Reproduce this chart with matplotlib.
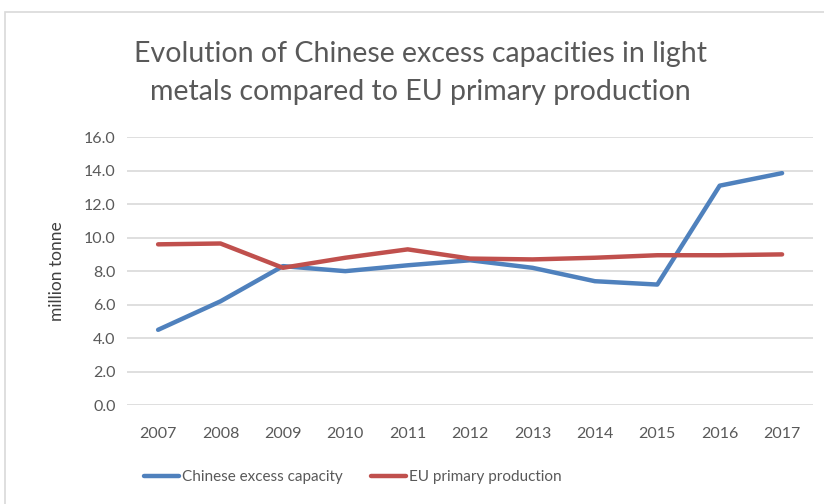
import matplotlib
matplotlib.use("Agg")
import matplotlib.pyplot as plt
from matplotlib.patches import Rectangle

years = ["2007", "2008", "2009", "2010", "2011", "2012",
         "2013", "2014", "2015", "2016", "2017"]
chinese_excess = [4.5, 6.2, 8.3, 8.0, 8.35, 8.65, 8.2, 7.4, 7.2, 13.1, 13.85]
eu_primary = [9.6, 9.65, 8.2, 8.8, 9.3, 8.75, 8.7, 8.8, 8.95, 8.95, 9.0]
y_ticks = [0, 2, 4, 6, 8, 10, 12, 14, 16]

plt.rcParams["font.family"] = ["Lato", "DejaVu Sans"]
text_grey = "#595959"

fig = plt.figure(figsize=(8.24, 5.04), dpi=100)
ax = fig.add_axes([0.154, 0.196, 0.833, 0.532])

x = range(len(years))
ax.plot(x, chinese_excess, color="#4F81BD", lw=3.2, solid_capstyle="round",
        label="Chinese excess capacity")
ax.plot(x, eu_primary, color="#C0504D", lw=3.2, solid_capstyle="round",
        label="EU primary production")

ax.set_xlim(-0.5, len(years) - 0.5)
ax.set_ylim(0, 16)
ax.set_xticks(list(x))
ax.set_xticklabels(years)
ax.set_yticks(y_ticks)
ax.set_yticklabels([f"{v:.1f}" for v in y_ticks])
ax.tick_params(length=0, labelsize=11.5, colors=text_grey, pad=8)
ax.tick_params(axis="x", pad=16)
ax.grid(axis="y", color="#D9D9D9", lw=1.2)
ax.set_axisbelow(True)
for s in ax.spines.values():
    s.set_visible(False)

ax.set_ylabel("million tonne", fontsize=12.5, color="#404040", labelpad=14)

fig.text(0.51, 0.855, "Evolution of Chinese excess capacities in light\n"
         "metals compared to EU primary production",
         ha="center", va="center", fontsize=20.5, color=text_grey,
         linespacing=1.6)

ax.legend(loc="upper left", bbox_to_anchor=(0.005, -0.19), ncol=2,
          frameon=False, fontsize=11, labelcolor=text_grey,
          handlelength=2.3, handletextpad=0.15, columnspacing=1.9)

# light frame around the whole chart
fig.patches.append(Rectangle((5 / 824, -0.1), 1.1, (504 - 12) / 504 + 0.1,
                             transform=fig.transFigure, fill=False,
                             edgecolor="#D9D9D9", lw=1.2))

fig.savefig("out.png", dpi=100)
